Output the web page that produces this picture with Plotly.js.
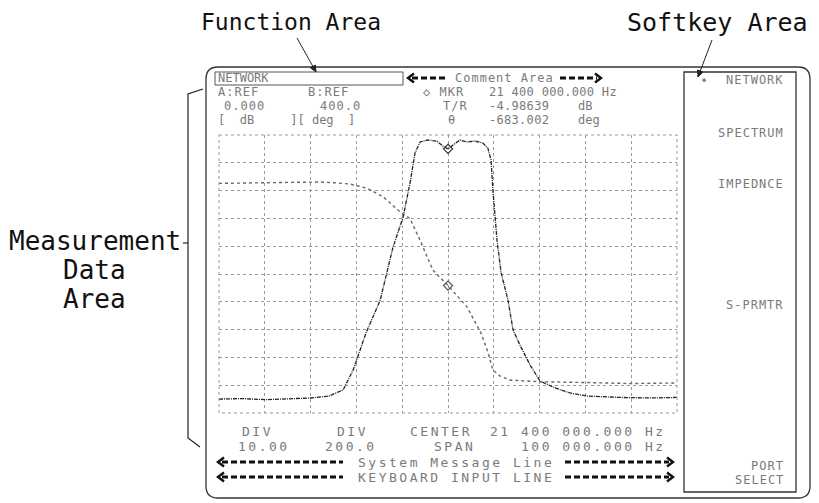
<!DOCTYPE html>
<html><head><meta charset="utf-8">
<script src="https://cdn.plot.ly/plotly-3.0.1.min.js"></script>
<style>html,body{margin:0;padding:0;background:#fff}#chart{width:819px;height:503px}</style>
</head><body><div id="chart"></div>
<script>
// ---- data (frequency in kHz, trace A magnitude in dB, trace B phase in deg) ----
const magFreq = [21350,21355,21360,21365,21370,21374,21377.1,21379.3,21380.8,21382.1,21385.2,21388.0,21390.2,21391.7,21392.8,21393.9,21395.6,21397.6,21398.9,21400,21401.1,21402.6,21404.1,21405.9,21407.6,21408.7,21409.4,21409.8,21410.7,21411.6,21413.1,21414.2,21415.7,21417.9,21420.1,21423.4,21426.6,21430.3,21437.6,21444.1,21450];
const magDb   = [-95.0,-94.8,-95.2,-94.9,-94.6,-93.9,-91.7,-84.5,-77.3,-71.2,-59.4,-40.3,-29.5,-17.3,-6.5,-2.5,-1.8,-2.2,-4.0,-5.0,-3.6,-1.8,-2.5,-2.2,-2.9,-4.7,-9.0,-19.8,-37.8,-49.6,-59.4,-70.1,-75.5,-82.7,-88.5,-91.0,-92.8,-93.9,-94.4,-94.6,-94.4];
const phFreq  = [21350,21354.6,21360.5,21367.7,21372.1,21374.9,21378.6,21382.3,21385.8,21389.5,21391.7,21393.9,21396.7,21400,21404.1,21407.2,21408.7,21409.8,21411.4,21413.5,21420.1,21430.3,21439.7,21450];
const phDeg   = [52,54,57,64,62,57,47,17,-44,-152,-201,-357,-572,-683,-835,-1024,-1161,-1291,-1334,-1363,-1375,-1381,-1388,-1384];
const mkrFreq = [21400];
const mkrDb   = [-4.98639];
const mkrDeg  = [-683.002];
const xRange  = [21350, 21450];   // center 21.4 MHz, span 100 kHz
const magRange = [-100, 0];       // REF 0.000 dB, 10 dB/div
const phRange  = [-1600, 400];    // REF 400.0 deg, 200 deg/div

// ---- page geometry (pixels) ----
const L=219, R=677, T=135, B=413;
const px = x => (x-L)/(R-L);
const py = y => (B-y)/(B-T);
const P = (x,y) => px(x)+','+py(y);

const MONO = 'DejaVu Sans Mono';
const INK = '#7a7a7a';
const ann = [];
function txt(text, x, y, size, color, anchor, spacing){
  const t = spacing ? '<span style="letter-spacing:'+spacing+'px">'+text+'</span>' : text;
  ann.push({text:t, x:px(x), y:py(y), xref:'paper', yref:'paper',
    xanchor:anchor||'left', yanchor:'middle', showarrow:false,
    font:{family:MONO, size:size, color:color||INK}});
}
// header rows
txt('NETWORK',216,78.5,12);
txt('Comment Area',504,78,12,INK,'center',1);
txt('A:REF',216,92,12,INK,'left',1); txt('B:REF',306,92,12,INK,'left',1); txt('◇ MKR',421,92,12,INK,'left',1); txt('21 400 000.000 Hz',487,92,12,INK,'left',0.3);
txt('0.000',222,106,12,INK,'left',1); txt('400.0',318,106,12,INK,'left',1); txt('T/R',441,106,12,INK,'left',1); txt('-4.98639',487,106,12,INK,'left',0.3); txt('dB',576,106,12);
txt('[  dB     ][ deg  ]',216,120,12); txt('θ',446,120,12); txt('-683.002',487,120,12,INK,'left',0.3); txt('deg',576,120,12);
// bottom rows
txt('DIV',240,431,13,INK,'left',2.5); txt('DIV',335,431,13,INK,'left',2.5); txt('CENTER',408,431,13,INK,'left',2.5); txt('21 400 000.000 Hz',668,431,13,INK,'right',2.5);
txt('10.00',236,446,13,INK,'left',2.5); txt('200.0',323,446,13,INK,'left',2.5); txt('SPAN',432,446,13,INK,'left',2.5); txt('100 000.000 Hz',668,446,13,INK,'right',2.5);
txt('System Message Line',456,462,13,INK,'center',2.5);
txt('KEYBOARD INPUT LINE',456,477,13,INK,'center',2.5);
// softkeys
txt('◆',700,80,7); txt('NETWORK',786,80,12,INK,'right',1);
txt('SPECTRUM',786,133,12,INK,'right',1);
txt('IMPEDNCE',786,184,12,INK,'right',1);
txt('S-PRMTR',786,305,12,INK,'right',1);
txt('PORT',786,466,12,INK,'right',1);
txt('SELECT',786,480,12,INK,'right',1);
// callout labels
txt('Function Area',291,22,23,'#111','center');
txt('Softkey Area',717,22,25,'#111','center');
txt('Measurement',95,241,26,'#111','center');
txt('Data',95,270,26,'#111','center');
txt('Area',95,299,26,'#111','center');

// ---- shapes ----
const shapes = [];
function path(d, color, width, dash){
  shapes.push({type:'path', xref:'paper', yref:'paper', path:d, line:{color:color, width:width, dash:dash||'solid'}, layer:'above'});
}
function seg(x0,y0,x1,y1,color,width,dash){
  shapes.push({type:'line', xref:'paper', yref:'paper', x0:px(x0), y0:py(y0), x1:px(x1), y1:py(y1), line:{color:color,width:width,dash:dash||'solid'}, layer:'above'});
}
function arrow(x0,y0,x1,y1){
  seg(x0,y0,x1,y1,'#222',1);
  const dx=x1-x0, dy=y1-y0, len=Math.hypot(dx,dy), ux=dx/len, uy=dy/len, s=7, a=0.42;
  const bx=-ux*s, by=-uy*s, c=Math.cos(a), sn=Math.sin(a);
  const p1=[x1+bx*c-by*sn, y1+bx*sn+by*c], p2=[x1+bx*c+by*sn, y1-bx*sn+by*c];
  shapes.push({type:'path', xref:'paper', yref:'paper', path:'M'+P(p1[0],p1[1])+' L'+P(x1,y1)+' L'+P(p2[0],p2[1])+' Z', fillcolor:'#222', line:{color:'#222',width:1}, layer:'above'});
}
function roundRect(x0,y0,x1,y1,r){
  return 'M'+P(x0+r,y0)+' L'+P(x1-r,y0)+' Q'+P(x1,y0)+' '+P(x1,y0+r)+' L'+P(x1,y1-r)+' Q'+P(x1,y1)+' '+P(x1-r,y1)+
         ' L'+P(x0+r,y1)+' Q'+P(x0,y1)+' '+P(x0,y1-r)+' L'+P(x0,y0+r)+' Q'+P(x0,y0)+' '+P(x0+r,y0)+' Z';
}
function boxPath(x0,y0,x1,y1){ return 'M'+P(x0,y0)+' L'+P(x1,y0)+' L'+P(x1,y1)+' L'+P(x0,y1)+' Z'; }
function chevron(xTip,y,dir){ const w=6*dir; path('M'+P(xTip+w,y-4.5)+' L'+P(xTip,y)+' L'+P(xTip+w,y+4.5),'#111',2.4); }
function thickArrowLeft(x0,x1,y){ chevron(x0,y,1); seg(x0+4,y,x1,y,'#111',3,'6px,3px'); }
function thickArrowRight(x0,x1,y){ seg(x0,y,x1-4,y,'#111',3,'6px,3px'); chevron(x1,y,-1); }

path(roundRect(206,67,810,498,12),'#333',1.3);
path(boxPath(684,72,796,492),'#333',1.3);
path(boxPath(215,72,403,85),'#555',1);
path(boxPath(219,135,677,413),'#999',1,'dot');
// bracket
path('M'+P(203,89)+' L'+P(188,94)+' L'+P(188,438)+' L'+P(200,447),'#222',1.2);
seg(183,243,188,243,'#222',1.2);
// callout arrows
arrow(297,38,316,72);
arrow(712,40,698,77);
// comment / message line arrows
thickArrowLeft(408,447,78);
thickArrowRight(560,601,78);
thickArrowLeft(218,343,462);
thickArrowRight(565,673,462);
thickArrowLeft(218,343,477);
thickArrowRight(565,673,477);

// ---- traces ----
const traces = [
  {x:magFreq, y:magDb, type:'scatter', mode:'lines', yaxis:'y', line:{color:'#222', width:1.3, dash:'4px,1px,1px,1px'}, hoverinfo:'skip'},
  {x:phFreq, y:phDeg, type:'scatter', mode:'lines', yaxis:'y2', line:{color:'#666', width:1.4, dash:'dot'}, hoverinfo:'skip'},
  {x:mkrFreq, y:mkrDb, type:'scatter', mode:'markers', yaxis:'y', marker:{symbol:'diamond-open', size:7, color:'#333', line:{width:1.2}}, hoverinfo:'skip'},
  {x:mkrFreq, y:mkrDeg, type:'scatter', mode:'markers', yaxis:'y2', marker:{symbol:'diamond-open', size:7, color:'#555', line:{width:1.2}}, hoverinfo:'skip'}
];

const gridAxis = {showgrid:true, gridcolor:'#999', griddash:'dot', gridwidth:1, zeroline:false, showline:false, showticklabels:false, ticks:''};
const layout = {
  width:819, height:503,
  margin:{l:L, r:819-R, t:T, b:503-B, pad:0},
  paper_bgcolor:'#fff', plot_bgcolor:'#fff',
  showlegend:false,
  xaxis:Object.assign({range:xRange, tick0:xRange[0], dtick:10}, gridAxis),
  yaxis:Object.assign({range:magRange, tick0:magRange[0], dtick:10}, gridAxis),
  yaxis2:{range:phRange, overlaying:'y', visible:false, showgrid:false},
  annotations:ann,
  shapes:shapes
};
Plotly.newPlot('chart', traces, layout, {staticPlot:true, displayModeBar:false});
</script>
</body></html>
